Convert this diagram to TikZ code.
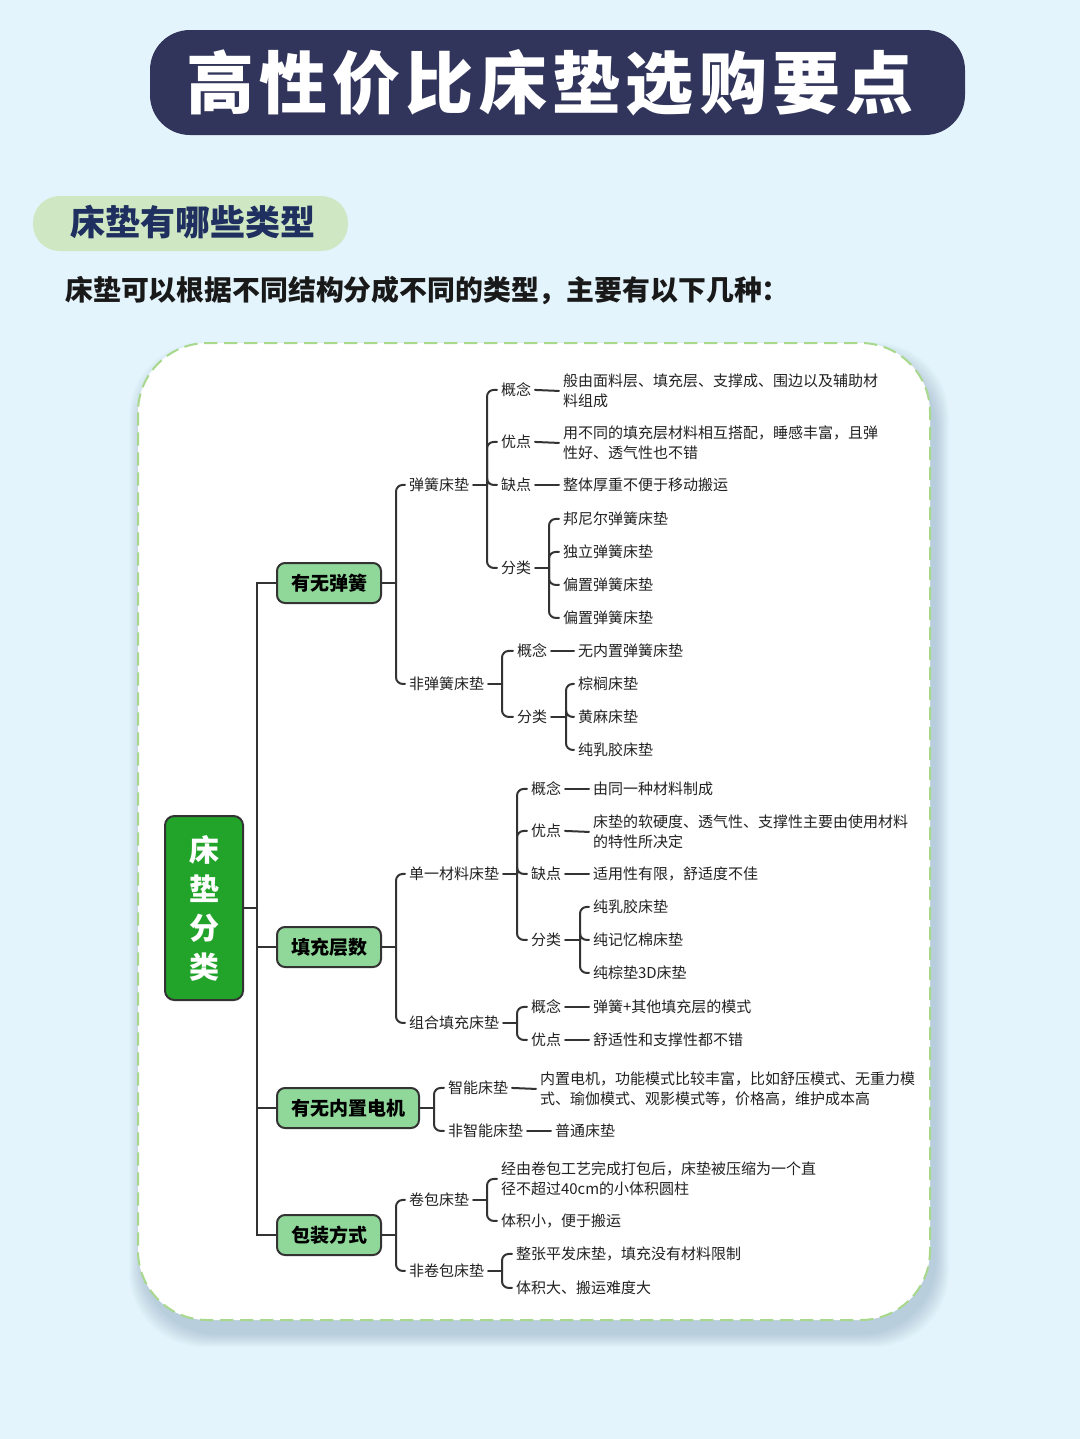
\documentclass[tikz,border=0pt]{standalone}
\usepackage{fontspec}
\setmainfont{Noto Sans CJK SC}
\usetikzlibrary{calc}
\definecolor{bg}{HTML}{E4F4FC}
\definecolor{navy}{HTML}{32355B}
\definecolor{pillg}{HTML}{CFE8C3}
\definecolor{navyt}{HTML}{1F2F5F}
\definecolor{lc}{HTML}{333333}
\definecolor{tc}{HTML}{222222}
\definecolor{l1fill}{HTML}{90D89A}
\definecolor{rootg}{HTML}{22A32A}
\definecolor{cardb}{HTML}{A8D88C}
\definecolor{shadowc}{HTML}{6F8FA8}
\newcommand\tch[1]{\makebox[55pt]{#1}}
\newcommand\mmbr[3]{%
  \path (#2,0) coordinate (tmpx);
  \coordinate (J) at (tmpx |- #1.east);
  \draw[conn] (#1.east) -- (J);
  \foreach \c in {#3} \draw[conn,rounded corners=5pt] (J) |- (\c.west);
}
\tikzset{
  conn/.style={draw=lc, line width=1.5pt, line cap=round},
  txt/.style={anchor=west, inner sep=0pt, outer sep=3pt, xshift=-3pt, yshift=-0.7pt, text=tc,
    font=\fontsize{11.25pt}{15pt}\selectfont, align=left},
  l1/.style={draw=lc, line width=1.5pt, fill=l1fill, rounded corners=6pt, anchor=west,
    inner xsep=10.5pt, inner ysep=0pt, minimum height=30pt, text=black,
    font=\fontsize{14.25pt}{16pt}\selectfont\bfseries},
  rootbox/.style={draw=lc, line width=1.5pt, fill=rootg, rounded corners=7pt,
    minimum width=58.5pt, minimum height=138pt, inner sep=0pt, text=white, align=center,
    font=\fontsize{22.5pt}{29.25pt}\selectfont\bfseries}
}
\begin{document}
\begin{tikzpicture}[x=0.75pt,y=-0.75pt]
\useasboundingbox (0,0) rectangle (1080,1439);
\fill[bg] (0,0) rectangle (1080,1439);

% title
\fill[navy, rounded corners=30pt] (150,30) rectangle (965,135);
\node[text=white, inner sep=0, font=\fontsize{51pt}{51pt}\selectfont\bfseries] (title) at (550,83)
  {\tch{高}\tch{性}\tch{价}\tch{比}\tch{床}\tch{垫}\tch{选}\tch{购}\tch{要}\tch{点}};

% subheading
\fill[pillg, rounded corners=20pt] (33,196) rectangle (348,251);
\node[text=navyt, inner sep=0, font=\fontsize{26.25pt}{28pt}\selectfont\bfseries] (sub) at (193,222) {床垫有哪些类型};
\node[anchor=west, inner sep=0, text=black!90, font=\fontsize{20.9pt}{22pt}\selectfont\bfseries] (intro) at (65,291)
  {床垫可以根据不同结构分成不同的类型，主要有以下几种：};

% card shadow + card
\foreach \i in {1,...,14}
  \fill[shadowc, opacity=0.028, rounded corners=56pt] ({138-\i+5},{343-\i+13}) rectangle ({930+\i+5},{1320+\i+13});
\draw[fill=white, draw=cardb, line width=1.5pt, dash pattern=on 10pt off 5pt, rounded corners=52pt]
  (138,343) rectangle (930,1320);

% root
\node[rootbox] (R) at (204,908) {床\\垫\\分\\类};

% level 1
\node[l1] (A1) at (276,583) {有无弹簧};
\node[l1] (A2) at (276,947) {填充层数};
\node[l1] (A3) at (276,1108) {有无内置电机};
\node[l1] (A4) at (276,1235) {包装方式};

% level 2
\node[txt] (B1) at (409,484) {弹簧床垫};
\node[txt] (B2) at (409,683) {非弹簧床垫};
\node[txt] (B3) at (409,873) {单一材料床垫};
\node[txt] (B4) at (409,1022) {组合填充床垫};
\node[txt] (B5) at (448,1087) {智能床垫};
\node[txt] (B6) at (448,1130) {非智能床垫};
\node[txt] (B7) at (409,1199) {卷包床垫};
\node[txt] (B8) at (409,1270) {非卷包床垫};

% under B1
\node[txt] (C1) at (501,389) {概念};
\node[txt] (C2) at (501,441) {优点};
\node[txt] (C3) at (501,484) {缺点};
\node[txt] (C4) at (501,567) {分类};
\node[txt] (D1) at (563,390) {般由面料层、填充层、支撑成、围边以及辅助材\\料组成};
\node[txt] (D2) at (563,442) {用不同的填充层材料相互搭配，睡感丰富，且弹\\性好、透气性也不错};
\node[txt] (D3) at (563,484) {整体厚重不便于移动搬运};
\node[txt] (E1) at (563,518) {邦尼尔弹簧床垫};
\node[txt] (E2) at (563,551) {独立弹簧床垫};
\node[txt] (E3) at (563,584) {偏置弹簧床垫};
\node[txt] (E4) at (563,617) {偏置弹簧床垫};

% under B2
\node[txt] (C5) at (517,650) {概念};
\node[txt] (C6) at (517,716) {分类};
\node[txt] (D5) at (578,650) {无内置弹簧床垫};
\node[txt] (E5) at (578,683) {棕榈床垫};
\node[txt] (E6) at (578,716) {黄麻床垫};
\node[txt] (E7) at (578,749) {纯乳胶床垫};

% under B3
\node[txt] (C7) at (531,788) {概念};
\node[txt] (C8) at (531,830) {优点};
\node[txt] (C9) at (531,873) {缺点};
\node[txt] (C10) at (531,939) {分类};
\node[txt] (D7) at (593,788) {由同一种材料制成};
\node[txt] (D8) at (593,831) {床垫的软硬度、透气性、支撑性主要由使用材料\\的特性所决定};
\node[txt] (D9) at (593,873) {适用性有限，舒适度不佳};
\node[txt] (E8) at (593,906) {纯乳胶床垫};
\node[txt] (E9) at (593,939) {纯记忆棉床垫};
\node[txt] (E10) at (593,972) {纯棕垫3D床垫};

% under B4
\node[txt] (C11) at (531,1006) {概念};
\node[txt] (C12) at (531,1039) {优点};
\node[txt] (D11) at (593,1006) {弹簧+其他填充层的模式};
\node[txt] (D12) at (593,1039) {舒适性和支撑性都不错};

% under A3
\node[txt] (D13) at (540,1088) {内置电机，功能模式比较丰富，比如舒压模式、无重力模\\式、瑜伽模式、观影模式等，价格高，维护成本高};
\node[txt] (D14) at (555,1130) {普通床垫};

% under A4
\node[txt] (F1) at (501,1178) {经由卷包工艺完成打包后，床垫被压缩为一个直\\径不超过40cm的小体积圆柱};
\node[txt] (F2) at (501,1220) {体积小，便于搬运};
\node[txt] (F3) at (516,1253) {整张平发床垫，填充没有材料限制};
\node[txt] (F4) at (516,1287) {体积大、搬运难度大};

% trunk
\path (257,0) coordinate (trx);
\coordinate (T) at (trx |- R.east);
\draw[conn] (R.east) -- (T);
\foreach \c in {A1,A2,A3,A4} \draw[conn, line cap=butt] (T) |- (\c.west);

% brackets
\mmbr{A1}{396}{B1,B2}
\mmbr{A2}{396}{B3,B4}
\mmbr{A3}{434}{B5,B6}
\mmbr{A4}{396}{B7,B8}
\mmbr{B1}{487}{C1,C2,C3,C4}
\mmbr{C4}{549}{E1,E2,E3,E4}
\mmbr{B2}{502}{C5,C6}
\mmbr{C6}{566}{E5,E6,E7}
\mmbr{B3}{517}{C7,C8,C9,C10}
\mmbr{C10}{580}{E8,E9,E10}
\mmbr{B4}{517}{C11,C12}
\mmbr{B7}{487}{F1,F2}
\mmbr{B8}{502}{F3,F4}

% leaf connectors
\foreach \a/\b in {C1/D1,C2/D2,C3/D3,C5/D5,C7/D7,C8/D8,C9/D9,C11/D11,C12/D12,B5/D13,B6/D14}
  \draw[conn] (\a.east) -- (\b.west);
\end{tikzpicture}
\end{document}
